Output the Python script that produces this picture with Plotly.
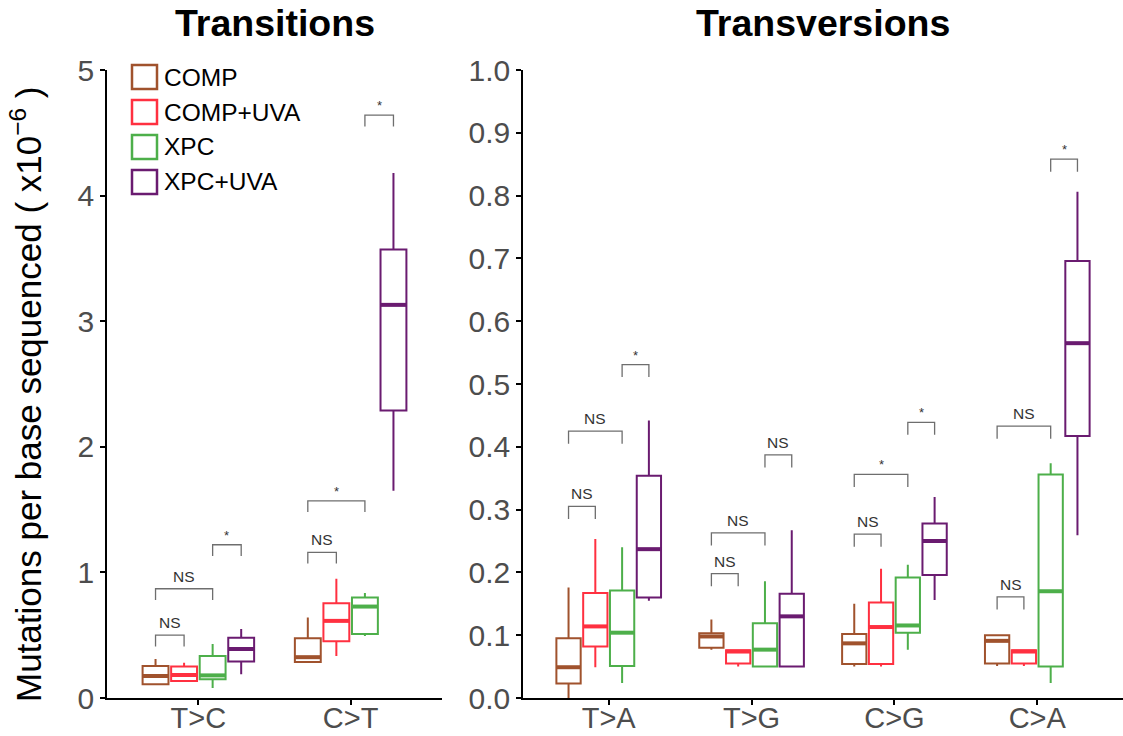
import plotly.graph_objects as go

# ---------------------------------------------------------------------------
# Data: five-number summaries [lower whisker, Q1, median, Q3, upper whisker]
# per mutation type, values in mutations per base sequenced (x10^-6)
# ---------------------------------------------------------------------------
groups = ["COMP", "COMP+UVA", "XPC", "XPC+UVA"]
colors = ["#A0522D", "#FF3040", "#4DAF4A", "#6A1B70"]

transition_types = ["T>C", "C>T"]
transition_comp = [[0.11, 0.11, 0.175, 0.255, 0.31], [0.287, 0.287, 0.325, 0.476, 0.64]]
transition_comp_uva = [[0.13, 0.135, 0.183, 0.25, 0.28], [0.335, 0.452, 0.614, 0.755, 0.949]]
transition_xpc = [[0.08, 0.15, 0.18, 0.335, 0.43], [0.494, 0.51, 0.728, 0.80, 0.835]]
transition_xpc_uva = [[0.19, 0.29, 0.39, 0.48, 0.55], [1.65, 2.29, 3.13, 3.57, 4.18]]

transversion_types = ["T>A", "T>G", "C>G", "C>A"]
transversion_comp = [[0.0, 0.023, 0.049, 0.095, 0.176], [0.077, 0.08, 0.098, 0.103, 0.125],
                     [0.05, 0.054, 0.087, 0.102, 0.150], [0.051, 0.055, 0.091, 0.10, 0.10]]
transversion_comp_uva = [[0.049, 0.082, 0.114, 0.167, 0.253], [0.05, 0.055, 0.074, 0.076, 0.076],
                         [0.05, 0.054, 0.113, 0.152, 0.206], [0.051, 0.055, 0.074, 0.076, 0.076]]
transversion_xpc = [[0.024, 0.051, 0.104, 0.171, 0.24], [0.05, 0.05, 0.077, 0.119, 0.186],
                    [0.077, 0.104, 0.1155, 0.192, 0.212], [0.024, 0.05, 0.17, 0.356, 0.374]]
transversion_xpc_uva = [[0.155, 0.16, 0.237, 0.354, 0.442], [0.05, 0.05, 0.13, 0.166, 0.267],
                        [0.156, 0.196, 0.25, 0.278, 0.32], [0.259, 0.417, 0.565, 0.696, 0.806]]

# Pairwise comparisons: (category index, group a, group b, bracket height, label)
transition_tests = [
    (0, 0, 1, 0.50, "NS"), (0, 0, 2, 0.87, "NS"), (0, 2, 3, 1.22, "*"),
    (1, 0, 1, 1.16, "NS"), (1, 0, 2, 1.57, "*"), (1, 2, 3, 4.64, "*"),
]
transversion_tests = [
    (0, 0, 1, 0.305, "NS"), (0, 0, 2, 0.425, "NS"), (0, 2, 3, 0.531, "*"),
    (1, 0, 1, 0.198, "NS"), (1, 0, 2, 0.263, "NS"), (1, 2, 3, 0.387, "NS"),
    (2, 0, 1, 0.261, "NS"), (2, 0, 2, 0.356, "*"), (2, 2, 3, 0.439, "*"),
    (3, 0, 1, 0.161, "NS"), (3, 0, 2, 0.433, "NS"), (3, 2, 3, 0.858, "*"),
]

# ---------------------------------------------------------------------------
W, H = 1123, 736
DODGE = [-0.28125, -0.09375, 0.09375, 0.28125]
BOX_W = 0.17
FONT = "Liberation Sans, Arial, sans-serif"
TICK_GRAY = "#4D4D4D"
BRACKET_GRAY = "#6E6E6E"

fig = go.Figure()


def add_panel(stats_by_group, n_cats, xaxis, yaxis):
    for g, (name, col) in enumerate(zip(groups, colors)):
        stats = stats_by_group[g]
        xs = [c + 1 + DODGE[g] for c in range(n_cats)]
        fig.add_trace(go.Box(
            x=xs,
            lowerfence=[s[0] for s in stats],
            q1=[s[1] for s in stats],
            median=[s[2] for s in stats],
            q3=[s[3] for s in stats],
            upperfence=[s[4] for s in stats],
            width=BOX_W, whiskerwidth=0, boxpoints=False,
            line=dict(color=col, width=2), fillcolor="rgba(255,255,255,0)",
            name=name, showlegend=False, hoverinfo="skip",
            xaxis=xaxis, yaxis=yaxis,
        ))
        # thicker median bars
        mx, my = [], []
        for x, s in zip(xs, stats):
            mx += [x - BOX_W / 2, x + BOX_W / 2, None]
            my += [s[2], s[2], None]
        fig.add_trace(go.Scatter(
            x=mx, y=my, mode="lines", line=dict(color=col, width=4),
            showlegend=False, hoverinfo="skip", xaxis=xaxis, yaxis=yaxis,
        ))


def add_brackets(tests, leg, xr, yr):
    bx, by = [], []
    for cat, a, b, h, label in tests:
        xa = cat + 1 + DODGE[a]
        xb = cat + 1 + DODGE[b]
        bx += [xa, xa, xb, xb, None]
        by += [h - leg, h, h, h - leg, None]
        is_star = label == "*"
        fig.add_annotation(
            x=(xa + xb) / 2, y=h, xref=xr, yref=yr,
            text=label, showarrow=False, xanchor="center", yanchor="bottom",
            yshift=0 if is_star else 2,
            font=dict(family=FONT, size=13 if is_star else 15.5, color="#333333"),
        )
    fig.add_trace(go.Scatter(
        x=bx, y=by, mode="lines", line=dict(color=BRACKET_GRAY, width=1.3),
        showlegend=False, hoverinfo="skip", xaxis=xr, yaxis=yr,
    ))


add_panel([transition_comp, transition_comp_uva, transition_xpc, transition_xpc_uva],
          len(transition_types), "x", "y")
add_panel([transversion_comp, transversion_comp_uva, transversion_xpc, transversion_xpc_uva],
          len(transversion_types), "x2", "y2")

add_brackets(transition_tests, 0.09, "x", "y")
add_brackets(transversion_tests, 0.02, "x2", "y2")

# ---------------------------------------------------------------------------
# Axes
y_bottom = 1 - 698 / H
y_top = 1 - 70 / H
axis_common = dict(
    showline=True, linecolor="black", linewidth=1.5, showgrid=False, zeroline=False,
    ticks="outside", ticklen=5, tickwidth=1.5, tickcolor="black", automargin=False,
    tickfont=dict(family=FONT, size=30, color=TICK_GRAY),
)
x_common = dict(axis_common, ticklabelstandoff=-12,
                tickfont=dict(family=FONT, size=29, color=TICK_GRAY))
fig.update_layout(
    xaxis=dict(domain=[107 / W, 442 / W], range=[0.4, 2.6],
               tickvals=[1, 2], ticktext=transition_types, anchor="y", **x_common),
    yaxis=dict(domain=[y_bottom, y_top], range=[0, 5], tickvals=[0, 1, 2, 3, 4, 5],
               anchor="x", **axis_common),
    xaxis2=dict(domain=[523 / W, 1.0], range=[0.4, 4.6],
                tickvals=[1, 2, 3, 4], ticktext=transversion_types, anchor="y2", **x_common),
    yaxis2=dict(domain=[y_bottom, y_top], range=[0, 1.0],
                tickvals=[i / 10 for i in range(11)],
                ticktext=[f"{i / 10:.1f}" for i in range(11)], anchor="x2", **axis_common),
    width=W, height=H, margin=dict(l=0, r=0, t=0, b=0, autoexpand=False),
    paper_bgcolor="white", plot_bgcolor="white", showlegend=False,
)

# Panel titles
for text, xc in [("Transitions", (107 + 442) / 2 / W), ("Transversions", (523 + 1123) / 2 / W)]:
    fig.add_annotation(x=xc, y=1 - 23 / H, xref="paper", yref="paper", text=f"<b>{text}</b>",
                       xanchor="center", yanchor="middle", showarrow=False,
                       font=dict(family=FONT, size=37.5, color="black"))

# Y-axis title
fig.add_annotation(
    x=26 / W, y=1 - 394 / H, xref="paper", yref="paper", textangle=-90,
    xanchor="center", yanchor="middle",
    text="Mutations per base sequenced ( x10<sup>\u22126</sup> )", showarrow=False,
    font=dict(family=FONT, size=35, color="black"),
)

# Legend: outlined squares with labels
for i, (name, col) in enumerate(zip(groups, colors)):
    yc = 77 + i * 35
    fig.add_shape(type="rect", xref="paper", yref="paper",
                  x0=132 / W, x1=157 / W, y0=1 - (yc + 12) / H, y1=1 - (yc - 12) / H,
                  line=dict(color=col, width=2.5), fillcolor="white")
    fig.add_annotation(x=162 / W, y=1 - yc / H, xref="paper", yref="paper", text=name,
                       xanchor="left", yanchor="middle", showarrow=False,
                       font=dict(family=FONT, size=24.5, color="black"))

fig.write_html("out.html")
